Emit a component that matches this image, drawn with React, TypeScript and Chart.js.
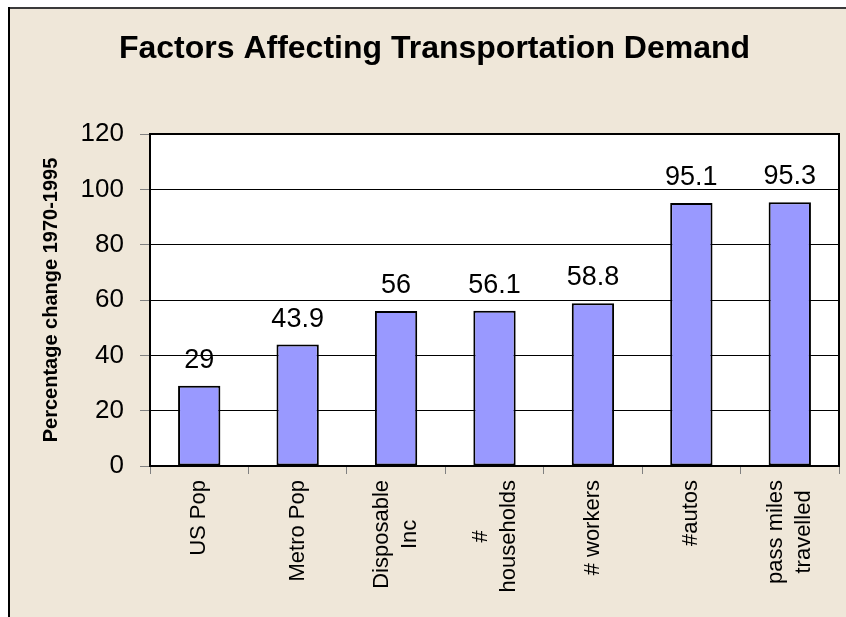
import React, { useEffect, useRef } from "react";
import { Chart, registerables } from "chart.js";

Chart.register(...registerables);

const TITLE = "Factors Affecting Transportation Demand";
const Y_TITLE = "Percentage change 1970-1995";
const CATEGORIES: string[][] = [
  ["US Pop"],
  ["Metro Pop"],
  ["Disposable", "Inc"],
  ["#", "households"],
  ["# workers"],
  ["#autos"],
  ["pass miles", "travelled"],
];
const VALUES: number[] = [29, 43.9, 56, 56.1, 58.8, 95.1, 95.3];
const Y_MIN = 0;
const Y_MAX = 120;
const Y_STEP = 20;

const FONT = "'Liberation Sans', Arial, sans-serif";

const framePlugin = {
  id: "frame",
  beforeDraw(chart: any) {
    const { ctx, width, height, chartArea } = chart;
    ctx.save();
    ctx.fillStyle = "#ffffff";
    ctx.fillRect(0, 0, width, height);
    ctx.fillStyle = "#EFE7D9";
    ctx.fillRect(10, 9, width - 10, height - 9);
    ctx.fillStyle = "#3a3a3a";
    ctx.fillRect(8, 7, width - 8, 2);
    ctx.fillStyle = "#000000";
    ctx.fillRect(8, 7, 2, height - 7);
    ctx.fillStyle = "#ffffff";
    ctx.fillRect(chartArea.left, chartArea.top, chartArea.right - chartArea.left, chartArea.bottom - chartArea.top);
    ctx.restore();
  },
  afterDraw(chart: any) {
    const { ctx, chartArea } = chart;
    ctx.save();
    ctx.strokeStyle = "#000000";
    ctx.lineWidth = 2;
    ctx.strokeRect(chartArea.left, chartArea.top, chartArea.right - chartArea.left, chartArea.bottom - chartArea.top);
    ctx.restore();
  },
};

const xLabelPlugin = {
  id: "xLabels",
  afterDraw(chart: any) {
    const { ctx, chartArea } = chart;
    const xScale = chart.scales.x;
    const labels: string[][] = chart.data.labels;
    ctx.save();
    ctx.font = `22px ${FONT}`;
    ctx.fillStyle = "#000000";
    ctx.textAlign = "center";
    ctx.textBaseline = "middle";
    const lineH = 28;
    labels.forEach((lines, i) => {
      const x = xScale.getPixelForValue(i);
      const maxW = Math.max(...lines.map((l) => ctx.measureText(l).width));
      const yc = chartArea.bottom + 14 + maxW / 2;
      ctx.save();
      ctx.translate(x, yc);
      ctx.rotate(-Math.PI / 2);
      lines.forEach((line, j) => {
        ctx.fillText(line, 0, (j - (lines.length - 1) / 2) * lineH);
      });
      ctx.restore();
    });
    ctx.restore();
  },
};

const valueLabelPlugin = {
  id: "valueLabels",
  afterDatasetsDraw(chart: any) {
    const { ctx } = chart;
    const meta = chart.getDatasetMeta(0);
    const data = chart.data.datasets[0].data;
    ctx.save();
    ctx.font = `27px ${FONT}`;
    ctx.fillStyle = "#000000";
    ctx.textAlign = "center";
    ctx.textBaseline = "alphabetic";
    meta.data.forEach((bar: any, i: number) => {
      ctx.fillText(String(data[i]), bar.x, bar.y - 18);
    });
    ctx.restore();
  },
};

export default function App() {
  const ref = useRef<HTMLCanvasElement | null>(null);
  useEffect(() => {
    if (!ref.current) return;
    const chart = new Chart(ref.current, {
      type: "bar",
      data: {
        labels: CATEGORIES as any,
        datasets: [
          {
            data: VALUES,
            backgroundColor: "#9999FF",
            borderColor: "#000000",
            borderWidth: 2,
            borderSkipped: false,
            categoryPercentage: 1,
            barPercentage: 0.43,
          },
        ],
      },
      options: {
        responsive: false,
        animation: false,
        layout: { padding: { left: 30, right: 7, top: 0, bottom: 0 } },
        plugins: {
          legend: { display: false },
          tooltip: { enabled: false },
          title: {
            display: true,
            text: TITLE,
            color: "#000000",
            font: { family: FONT, size: 32, weight: "bold" },
            padding: { top: 30, bottom: 65.6 },
          },
        },
        scales: {
          x: {
            type: "category",
            offset: true,
            ticks: { display: false },
            grid: {
              display: true,
              drawOnChartArea: false,
              drawTicks: true,
              tickLength: 8,
              offset: true,
              color: "#808080",
            },
            border: { display: true, color: "#000000", width: 2 },
            afterFit: (scale: any) => {
              scale.height = 151;
            },
          },
          y: {
            min: Y_MIN,
            max: Y_MAX,
            ticks: {
              stepSize: Y_STEP,
              color: "#000000",
              padding: 16,
              font: { family: FONT, size: 26 },
            },
            grid: {
              color: "#000000",
              lineWidth: 1,
              tickLength: 10,
              tickColor: "#808080",
            },
            border: { display: true, color: "#000000", width: 2 },
            title: {
              display: true,
              text: Y_TITLE,
              color: "#000000",
              font: { family: FONT, size: 20, weight: "bold" },
              padding: { top: 9, bottom: 0 },
            },
            afterFit: (scale: any) => {
              scale.width = 120;
            },
          },
        },
      },
      plugins: [framePlugin, xLabelPlugin, valueLabelPlugin],
    });
    return () => chart.destroy();
  }, []);
  return (
    <div style={{ position: "fixed", left: 0, top: 0, width: 846, height: 617, overflow: "hidden" }}>
      <canvas ref={ref} width={846} height={617} style={{ display: "block" }} />
    </div>
  );
}
